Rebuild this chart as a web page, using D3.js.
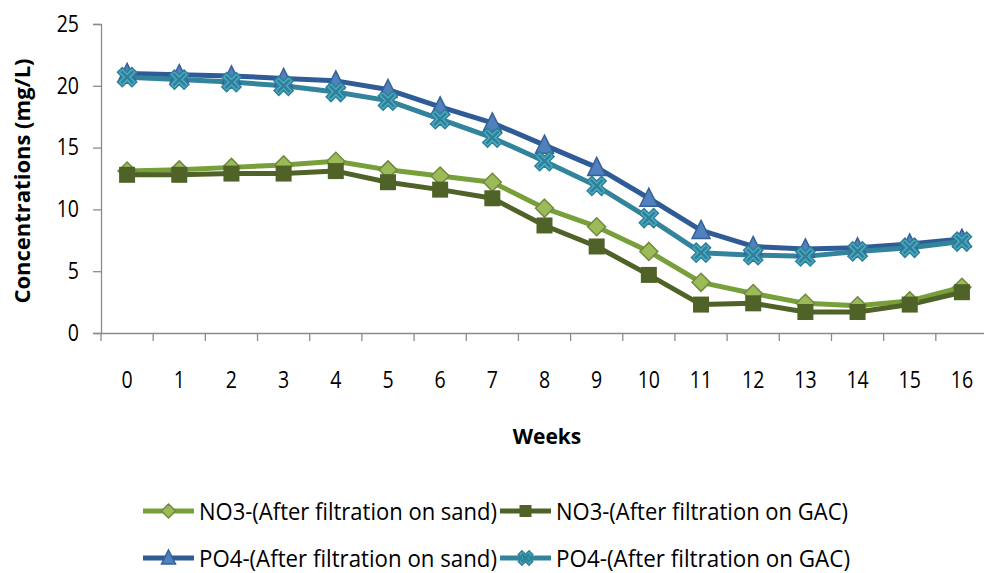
<!DOCTYPE html>
<html lang="en">
<head>
    <meta charset="UTF-8">
    <title>Concentrations over weeks</title>
    <script src="https://d3js.org/d3.v7.min.js"></script>
    <style>
        body { margin: 0; background: #fff; }
        text { font-family: "Open Sans", sans-serif; fill: #000; }
    </style>
</head>
<body>
<div id="chart"></div>
<script>
    // data
    let weeks = [0, 1, 2, 3, 4, 5, 6, 7, 8, 9, 10, 11, 12, 13, 14, 15, 16];
    let no3Sand = [13.1, 13.2, 13.4, 13.6, 13.9, 13.2, 12.7, 12.2, 10.1, 8.6, 6.6, 4.1, 3.2, 2.4, 2.2, 2.6, 3.7];
    let no3Gac  = [12.8, 12.8, 12.9, 12.9, 13.1, 12.2, 11.6, 10.9, 8.7, 7.0, 4.7, 2.3, 2.4, 1.7, 1.7, 2.3, 3.3];
    let po4Sand = [21.0, 20.9, 20.8, 20.6, 20.4, 19.7, 18.3, 17.0, 15.2, 13.4, 10.9, 8.3, 7.0, 6.8, 6.9, 7.2, 7.6];
    let po4Gac  = [20.7, 20.5, 20.3, 20.0, 19.5, 18.8, 17.3, 15.8, 13.9, 11.9, 9.3, 6.5, 6.3, 6.2, 6.6, 6.9, 7.4];
    let yTicks = [0, 5, 10, 15, 20, 25];

    let series = [
        { name: "NO3-(After filtration on sand)", values: no3Sand, line: "#77A03A", fill: "#9BBB59", edge: "#71893F", shape: "diamond" },
        { name: "NO3-(After filtration on GAC)", values: no3Gac, line: "#4F6228", fill: "#4F6228", edge: "#4F6228", shape: "square" },
        { name: "PO4-(After filtration on sand)", values: po4Sand, line: "#2F5C97", fill: "#4F81BD", edge: "#35609A", shape: "triangle" },
        { name: "PO4-(After filtration on GAC)", values: po4Gac, line: "#31849B", fill: "#4BACC6", edge: "#2F8097", shape: "cross" }
    ];

    let width = 984, height = 573;
    let svg = d3.select("#chart").append("svg")
        .attr("width", width)
        .attr("height", height);

    let x = d3.scaleBand().domain(weeks).range([101, 988]);
    let y = d3.scaleLinear().domain([0, 25]).range([333, 24]);

    // narrow look of the original labels
    function narrow(sel, w) {
        sel.each(function () {
            let t = d3.select(this);
            t.attr("textLength", this.getComputedTextLength() * w).attr("lengthAdjust", "spacingAndGlyphs");
        });
    }

    // y axis
    let yAxis = svg.append("g")
        .attr("transform", "translate(101,0)")
        .call(d3.axisLeft(y).tickValues(yTicks).tickSize(8).tickPadding(14));
    yAxis.select(".domain").attr("stroke", "#8c8c8c").attr("stroke-width", 1.3);
    yAxis.selectAll(".tick line").attr("stroke", "#8c8c8c").attr("stroke-width", 1.3);
    yAxis.selectAll("text").style("font-size", "23px").attr("fill", "#000").call(narrow, 0.85);

    // x axis
    let xAxis = svg.append("g")
        .attr("transform", "translate(0,333)")
        .call(d3.axisBottom(x).tickSize(0).tickPadding(39));
    xAxis.select(".domain").attr("stroke", "#8c8c8c").attr("stroke-width", 1.3);
    xAxis.selectAll("text").style("font-size", "23px").attr("fill", "#000").call(narrow, 0.85);
    // tick marks sit between the categories
    svg.append("g").selectAll("line")
        .data(weeks.concat([17]))
        .enter().append("line")
        .attr("x1", d => 101 + d * x.step())
        .attr("x2", d => 101 + d * x.step())
        .attr("y1", 333)
        .attr("y2", 341)
        .attr("stroke", "#8c8c8c")
        .attr("stroke-width", 1.3);

    // axis titles
    svg.append("text")
        .attr("transform", "translate(30,181) rotate(-90)")
        .attr("text-anchor", "middle")
        .style("font-weight", "bold")
        .style("font-size", "22px")
        .text("Concentrations (mg/L)")
        .call(narrow, 1.0);
    svg.append("text")
        .attr("x", 547)
        .attr("y", 444)
        .attr("text-anchor", "middle")
        .style("font-weight", "bold")
        .style("font-size", "21px")
        .text("Weeks");

    function marker(g, s, size) {
        let h = size / 2;
        if (s.shape === "diamond") {
            g.append("path").attr("d", `M0,${-h - 1}L${h + 1},0L0,${h + 1}L${-h - 1},0Z`)
                .attr("fill", s.fill).attr("stroke", s.edge).attr("stroke-width", 1.5);
        } else if (s.shape === "square") {
            g.append("rect").attr("x", -h).attr("y", -h).attr("width", size).attr("height", size)
                .attr("fill", s.fill);
        } else if (s.shape === "triangle") {
            g.append("path").attr("d", `M0,${-h - 2}L${h + 1},${h}L${-h - 1},${h}Z`)
                .attr("fill", s.fill).attr("stroke", s.edge).attr("stroke-width", 1.5);
        } else {
            g.append("path").attr("d", d3.symbol(d3.symbolCross, size * size * 0.9)())
                .attr("transform", "rotate(45)")
                .attr("fill", s.fill).attr("stroke", s.edge).attr("stroke-width", 1.5);
            g.append("path").attr("d", `M${-h + 2},${-h + 2}L${h - 2},${h - 2}M${h - 2},${-h + 2}L${-h + 2},${h - 2}`)
                .attr("stroke", s.edge).attr("stroke-width", 2.5);
        }
    }

    let line = d3.line()
        .x((d, i) => x(weeks[i]) + x.bandwidth() / 2)
        .y(d => y(d));

    series.forEach(s => {
        svg.append("path")
            .datum(s.values)
            .attr("d", line)
            .attr("fill", "none")
            .attr("stroke", s.line)
            .attr("stroke-width", 5)
            .attr("stroke-linejoin", "round");
    });
    series.forEach(s => {
        svg.append("g").selectAll("g")
            .data(s.values)
            .enter().append("g")
            .attr("transform", (d, i) => `translate(${x(weeks[i]) + x.bandwidth() / 2},${y(d)})`)
            .each(function () { marker(d3.select(this), s, 16); });
    });

    // legend
    let legendPos = [[143, 511], [500, 511], [143, 558], [500, 558]];
    let legendWidth = [298, 292, 298, 294];
    series.forEach((s, i) => {
        let g = svg.append("g").attr("transform", `translate(${legendPos[i][0]},${legendPos[i][1]})`);
        g.append("line").attr("x1", 0).attr("x2", 51).attr("y1", 0).attr("y2", 0)
            .attr("stroke", s.line).attr("stroke-width", 5);
        let m = g.append("g").attr("transform", "translate(25.5,0)");
        marker(m, s, 12);
        g.append("text").attr("x", 56).attr("y", 9)
            .style("font-size", "24px")
            .attr("textLength", legendWidth[i])
            .attr("lengthAdjust", "spacingAndGlyphs")
            .text(s.name);
    });
</script>
</body>
</html>
